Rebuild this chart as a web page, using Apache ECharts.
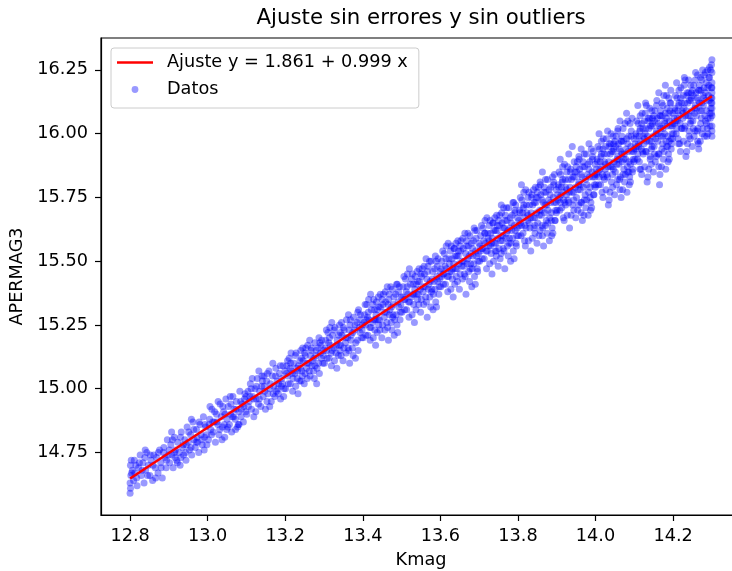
<!DOCTYPE html>
<html>
<head>
<meta charset="utf-8">
<script src="https://cdn.jsdelivr.net/npm/echarts@6/dist/echarts.min.js"></script>
<style>
  html, body { margin: 0; padding: 0; background: #fff; }
  #chart { width: 732px; height: 571px; }
</style>
</head>
<body>
<div id="chart"></div>
<script>
// Fitted line coefficients: y = intercept + slope * x
const intercept = 1.861;
const slope = 0.999;
const fitRange = [12.8, 14.3];

// Tick positions
const ticksX = [12.8, 13.0, 13.2, 13.4, 13.6, 13.8, 14.0, 14.2];
const ticksY = [14.75, 15.00, 15.25, 15.50, 15.75, 16.00, 16.25];

// Measured points, first batch: [Kmag, APERMAG3]
const datosA = [
[12.800,14.59],[12.801,14.61],[12.800,14.63],[12.802,14.66],[12.801,14.70],[12.803,14.72],[12.806,14.68],[12.809,14.64],
[12.812,14.67],[12.815,14.70],[12.818,14.62],[12.822,14.69],[12.826,14.74],[12.829,14.66],[12.833,14.71],[12.836,14.63],
[12.840,14.68],[12.843,14.75],[12.847,14.70],[12.851,14.66],[12.854,14.72],[12.858,14.64],[12.861,14.74],[12.865,14.69],
[12.868,14.73],[12.872,14.67],[12.876,14.76],[12.879,14.71],[12.883,14.65],[12.886,14.75],[12.890,14.73],[12.893,14.69],
[12.896,14.80],[12.899,14.74],
[12.902,14.71],[12.905,14.78],[12.908,14.74],[12.911,14.69],[12.914,14.81],[12.917,14.76],[12.920,14.72],[12.923,14.79],
[12.926,14.75],[12.929,14.70],[12.932,14.83],[12.935,14.77],[12.938,14.74],[12.941,14.80],[12.944,14.72],[12.947,14.85],
[12.950,14.79],[12.953,14.76],[12.956,14.82],[12.959,14.74],[12.962,14.87],[12.965,14.80],[12.968,14.77],[12.971,14.84],
[12.974,14.79],[12.977,14.75],[12.980,14.86],[12.983,14.82],[12.986,14.78],[12.989,14.89],[12.992,14.81],[12.995,14.85],
[12.998,14.78],[12.907,14.83],[12.931,14.73],[12.958,14.88],[12.973,14.81],[12.991,14.76],[12.945,14.78],[12.916,14.73],
[13.002,14.80],[13.005,14.88],[13.008,14.84],[13.011,14.92],[13.014,14.83],[13.017,14.87],[13.020,14.79],[13.023,14.90],
[13.026,14.86],[13.029,14.82],[13.032,14.94],[13.035,14.89],[13.038,14.85],[13.041,14.91],[13.044,14.81],[13.047,14.96],
[13.050,14.88],[13.053,14.93],[13.056,14.86],[13.059,14.90],[13.062,14.83],[13.065,14.97],[13.068,14.92],[13.071,14.88],
[13.074,14.95],[13.077,14.85],[13.080,14.91],[13.083,14.99],[13.086,14.89],[13.089,14.94],[13.092,14.87],[13.095,14.96],
[13.098,14.91],[13.013,14.87],[13.027,14.95],[13.043,14.86],[13.058,14.97],[13.072,14.84],[13.087,14.92],[13.096,14.98],
[13.006,14.93],[13.037,14.80],[13.064,14.89],[13.081,14.86],[13.049,14.84],
[13.101,14.90],[13.104,14.99],[13.107,14.95],[13.110,15.02],[13.113,14.92],[13.116,14.97],[13.119,14.89],[13.122,15.00],
[13.125,14.96],[13.128,15.04],[13.131,14.94],[13.134,14.99],[13.137,14.93],[13.140,15.05],[13.143,14.97],[13.146,15.01],
[13.149,14.92],[13.152,15.03],[13.155,14.98],[13.158,15.07],[13.161,15.00],[13.164,14.95],[13.167,15.05],[13.170,15.01],
[13.173,14.97],[13.176,15.08],[13.179,15.03],[13.182,14.98],[13.185,15.06],[13.188,14.96],[13.191,15.04],[13.194,15.09],
[13.197,15.00],[13.109,14.97],[13.124,14.91],[13.139,15.01],[13.153,14.95],[13.168,15.10],[13.183,15.02],[13.196,14.97],
[13.115,15.04],[13.132,15.07],[13.160,14.93],[13.177,14.99],[13.145,15.05],[13.190,15.01],
[13.201,15.00],[13.204,15.09],[13.207,15.05],[13.210,15.12],[13.213,15.02],[13.216,15.07],[13.219,14.99],[13.222,15.10],
[13.225,15.06],[13.228,15.14],[13.231,15.04],[13.234,15.09],[13.237,15.03],[13.240,15.15],[13.243,15.07],[13.246,15.11],
[13.249,15.02],[13.252,15.13],[13.255,15.08],[13.258,15.17],[13.261,15.10],[13.264,15.05],[13.267,15.15],[13.270,15.11],
[13.273,15.07],[13.276,15.18],[13.279,15.13],[13.282,15.08],[13.285,15.16],[13.288,15.06],[13.291,15.14],[13.294,15.19],
[13.297,15.10],[13.206,15.11],[13.218,15.06],[13.233,14.98],[13.245,15.16],[13.257,15.04],[13.269,15.09],[13.281,15.02],
[13.293,15.12],[13.212,15.08],[13.227,15.01],[13.242,15.12],[13.263,15.19],[13.275,15.04],[13.287,15.20],[13.299,15.15],
[13.239,15.08],[13.251,15.06],
[13.301,15.10],[13.304,15.19],[13.307,15.15],[13.310,15.22],[13.313,15.12],[13.316,15.17],[13.319,15.09],[13.322,15.21],
[13.325,15.16],[13.328,15.24],[13.331,15.14],[13.334,15.19],[13.337,15.13],[13.340,15.25],[13.343,15.17],[13.346,15.21],
[13.349,15.11],[13.352,15.23],[13.355,15.18],[13.358,15.27],[13.361,15.20],[13.364,15.15],[13.367,15.25],[13.370,15.21],
[13.373,15.16],[13.376,15.28],[13.379,15.23],[13.382,15.18],[13.385,15.26],[13.388,15.15],[13.391,15.24],[13.394,15.29],
[13.397,15.20],[13.306,15.23],[13.318,15.14],[13.333,15.08],[13.345,15.26],[13.357,15.14],[13.369,15.19],[13.381,15.12],
[13.393,15.22],[13.312,15.18],[13.327,15.11],[13.342,15.22],[13.363,15.29],[13.375,15.13],[13.387,15.30],[13.399,15.25],
[13.339,15.17],[13.351,15.16],[13.320,15.26],[13.366,15.10],
[13.401,15.20],[13.404,15.29],[13.407,15.25],[13.410,15.33],[13.413,15.21],[13.416,15.27],[13.419,15.19],[13.422,15.31],
[13.425,15.26],[13.428,15.35],[13.431,15.23],[13.434,15.29],[13.437,15.22],[13.440,15.36],[13.443,15.27],[13.446,15.32],
[13.449,15.20],[13.452,15.33],[13.455,15.28],[13.458,15.38],[13.461,15.30],[13.464,15.24],[13.467,15.35],[13.470,15.31],
[13.473,15.26],[13.476,15.39],[13.479,15.33],[13.482,15.27],[13.485,15.37],[13.488,15.25],[13.491,15.34],[13.494,15.40],
[13.497,15.30],[13.406,15.33],[13.418,15.24],[13.433,15.17],[13.445,15.37],[13.457,15.23],[13.469,15.29],[13.481,15.21],
[13.493,15.32],[13.412,15.28],[13.427,15.20],[13.442,15.32],[13.463,15.40],[13.475,15.23],[13.487,15.41],[13.499,15.36],
[13.439,15.27],[13.451,15.25],[13.420,15.37],[13.466,15.19],[13.430,15.31],[13.478,15.29],[13.490,15.22],[13.459,15.34],
[13.501,15.30],[13.504,15.40],[13.507,15.35],[13.510,15.43],[13.513,15.31],[13.516,15.37],[13.519,15.28],[13.522,15.41],
[13.525,15.36],[13.528,15.45],[13.531,15.33],[13.534,15.39],[13.537,15.31],[13.540,15.46],[13.543,15.37],[13.546,15.42],
[13.549,15.30],[13.552,15.44],[13.555,15.38],[13.558,15.48],[13.561,15.40],[13.564,15.34],[13.567,15.46],[13.570,15.41],
[13.573,15.36],[13.576,15.50],[13.579,15.43],[13.582,15.37],[13.585,15.47],[13.588,15.34],[13.591,15.44],[13.594,15.51],
[13.597,15.40],[13.506,15.44],[13.518,15.34],[13.533,15.26],[13.545,15.47],[13.557,15.33],[13.569,15.39],[13.581,15.31],
[13.593,15.42],[13.512,15.38],[13.527,15.29],[13.542,15.42],[13.563,15.51],[13.575,15.32],[13.587,15.52],[13.599,15.46],
[13.539,15.37],[13.551,15.35],[13.520,15.47],[13.566,15.28],[13.530,15.41],[13.578,15.39],[13.590,15.32],[13.559,15.45],
[13.548,15.39],[13.584,15.42],
[13.601,15.40],[13.604,15.50],[13.607,15.45],[13.610,15.53],[13.613,15.41],[13.616,15.47],[13.619,15.38],[13.622,15.51],
[13.625,15.46],[13.628,15.56],[13.631,15.43],[13.634,15.49],[13.637,15.41],[13.640,15.57],[13.643,15.47],[13.646,15.52],
[13.649,15.39],[13.652,15.54],[13.655,15.48],[13.658,15.59],[13.661,15.50],[13.664,15.44],[13.667,15.56],[13.670,15.51],
[13.673,15.46],[13.676,15.60],[13.679,15.53],[13.682,15.47],[13.685,15.58],[13.688,15.44],[13.691,15.54],[13.694,15.62],
[13.697,15.50],[13.606,15.54],[13.618,15.44],[13.633,15.36],[13.645,15.58],[13.657,15.43],[13.669,15.49],[13.681,15.40],
[13.693,15.52],[13.612,15.48],[13.627,15.39],[13.642,15.52],[13.663,15.61],[13.675,15.42],[13.687,15.63],[13.699,15.57],
[13.639,15.47],[13.651,15.45],[13.620,15.57],[13.666,15.37],[13.630,15.51],[13.678,15.49],[13.690,15.41],[13.659,15.55],
[13.648,15.49],[13.684,15.52],[13.603,15.44],[13.636,15.55],[13.672,15.56],[13.696,15.46],
[13.701,15.50],[13.704,15.60],[13.707,15.55],[13.710,15.63],[13.713,15.51],[13.716,15.57],[13.719,15.47],[13.722,15.61],
[13.725,15.56],[13.728,15.66],[13.731,15.53],[13.734,15.59],[13.737,15.50],[13.740,15.67],[13.743,15.57],[13.746,15.62],
[13.749,15.48],[13.752,15.64],[13.755,15.58],[13.758,15.69],[13.761,15.60],[13.764,15.54],[13.767,15.66],[13.770,15.61],
[13.773,15.56],[13.776,15.71],[13.779,15.63],[13.782,15.57],[13.785,15.68],[13.788,15.54],[13.791,15.64],[13.794,15.72],
[13.797,15.60],[13.706,15.64],[13.718,15.54],[13.733,15.45],[13.745,15.68],[13.757,15.53],[13.769,15.59],[13.781,15.50],
[13.793,15.62],[13.712,15.58],[13.727,15.49],[13.742,15.62],[13.763,15.71],[13.775,15.52],[13.787,15.73],[13.799,15.67],
[13.739,15.57],[13.751,15.55],[13.720,15.67],[13.766,15.47],[13.730,15.61],[13.778,15.59],[13.790,15.51],[13.759,15.65],
[13.748,15.59],[13.784,15.62],[13.703,15.54],[13.736,15.65],[13.772,15.66],[13.796,15.56],[13.715,15.61],[13.754,15.51],
[13.744,15.54],[13.792,15.69],[13.726,15.58],[13.762,15.63],
[13.801,15.60],[13.804,15.70],[13.807,15.65],[13.810,15.74],[13.813,15.61],[13.816,15.67],[13.819,15.56],[13.822,15.72],
[13.825,15.66],[13.828,15.77],[13.831,15.63],[13.834,15.69],[13.837,15.59],[13.840,15.78],[13.843,15.67],[13.846,15.73],
[13.849,15.57],[13.852,15.75],[13.855,15.68],[13.858,15.80],[13.861,15.70],[13.864,15.63],[13.867,15.77],[13.870,15.72],
[13.873,15.66],[13.876,15.82],[13.879,15.74],[13.882,15.67],[13.885,15.79],[13.888,15.63],[13.891,15.75],[13.894,15.84],
[13.897,15.70],[13.806,15.75],[13.818,15.64],[13.833,15.54],[13.845,15.79],[13.857,15.62],[13.869,15.69],[13.881,15.58],
[13.893,15.73],[13.812,15.69],[13.827,15.58],[13.842,15.73],[13.863,15.85],[13.875,15.61],[13.887,15.60],[13.899,15.78],
[13.839,15.67],[13.851,15.65],[13.820,15.78],[13.866,15.56],[13.830,15.72],[13.878,15.70],[13.890,15.61],[13.859,15.76],
[13.848,15.69],[13.884,15.73],[13.803,15.64],[13.836,15.76],[13.872,15.77],[13.896,15.66],[13.815,15.72],[13.854,15.60],
[13.844,15.64],[13.892,15.81],[13.826,15.68],[13.862,15.74],[13.809,15.80],[13.871,15.64],[13.886,15.69],
[13.901,15.70],[13.904,15.80],[13.907,15.75],[13.910,15.84],[13.913,15.71],[13.916,15.77],[13.919,15.66],[13.922,15.82],
[13.925,15.76],[13.928,15.87],[13.931,15.73],[13.934,15.79],[13.937,15.68],[13.940,15.95],[13.943,15.77],[13.946,15.83],
[13.949,15.67],[13.952,15.85],[13.955,15.78],[13.958,15.90],[13.961,15.80],[13.964,15.73],[13.967,15.87],[13.970,15.68],
[13.973,15.76],[13.976,15.92],[13.979,15.84],[13.982,15.77],[13.985,15.89],[13.988,15.73],[13.991,15.85],[13.994,15.93],
[13.997,15.80],[13.906,15.85],[13.918,15.74],[13.933,15.63],[13.945,15.89],[13.957,15.72],[13.969,15.79],[13.981,15.68],
[13.993,15.83],[13.912,15.79],[13.927,15.68],[13.942,15.83],[13.963,15.94],[13.975,15.71],[13.987,15.70],[13.999,15.88],
[13.939,15.77],[13.951,15.75],[13.920,15.88],[13.966,15.66],[13.930,15.82],[13.978,15.80],[13.990,15.71],[13.959,15.86],
[13.948,15.79],[13.984,15.83],[13.903,15.74],[13.936,15.86],[13.972,15.87],[13.996,15.76],[13.915,15.82],[13.954,15.70],
[13.944,15.74],[13.992,15.91],[13.926,15.78],[13.962,15.84],[13.909,15.90],[13.971,15.74],[13.986,15.79],[13.923,15.72],
[13.957,15.81],[13.998,15.84],[13.911,15.76],
[14.001,15.80],[14.004,15.90],[14.007,15.85],[14.010,15.94],[14.013,15.80],[14.016,15.87],[14.019,15.75],[14.022,15.92],
[14.025,15.86],[14.028,15.98],[14.031,15.83],[14.034,15.89],[14.037,15.77],[14.040,16.00],[14.043,15.87],[14.046,15.93],
[14.049,15.76],[14.052,15.95],[14.055,15.88],[14.058,16.02],[14.061,15.90],[14.064,15.83],[14.067,15.97],[14.070,15.78],
[14.073,15.86],[14.076,16.04],[14.079,15.94],[14.082,15.87],[14.085,15.99],[14.088,15.83],[14.091,15.95],[14.094,16.06],
[14.097,15.90],[14.006,15.95],[14.018,15.84],[14.033,15.72],[14.045,15.99],[14.057,15.82],[14.069,15.89],[14.081,15.77],
[14.093,15.93],[14.012,15.89],[14.027,15.78],[14.042,15.93],[14.063,16.05],[14.075,15.81],[14.087,15.80],[14.099,15.98],
[14.039,15.87],[14.051,15.85],[14.020,15.98],[14.066,15.75],[14.030,15.92],[14.078,15.90],[14.090,15.81],[14.059,15.96],
[14.048,15.89],[14.084,15.93],[14.003,15.84],[14.036,15.96],[14.072,15.97],[14.096,15.86],[14.015,15.92],[14.054,15.80],
[14.044,15.84],[14.092,16.01],[14.026,15.88],[14.062,15.94],[14.009,16.00],[14.071,15.84],[14.086,15.89],[14.023,15.82],
[14.057,15.91],[14.098,15.94],[14.011,15.86],[14.080,16.08],[14.035,15.74],[14.068,15.92],[14.047,15.96],[14.083,15.85],
[14.101,15.90],[14.104,16.00],[14.107,15.95],[14.110,16.04],[14.113,15.89],[14.116,15.97],[14.119,15.84],[14.122,16.02],
[14.125,15.96],[14.128,16.08],[14.131,15.93],[14.134,15.99],[14.137,15.86],[14.140,16.10],[14.143,15.97],[14.146,16.03],
[14.149,15.85],[14.152,16.05],[14.155,15.98],[14.158,16.13],[14.161,16.00],[14.164,15.92],[14.167,16.07],[14.170,15.87],
[14.173,15.96],[14.176,16.15],[14.179,16.04],[14.182,15.97],[14.185,16.10],[14.188,15.92],[14.191,16.05],[14.194,16.17],
[14.197,16.00],[14.106,16.05],[14.118,15.94],[14.133,15.81],[14.145,16.09],[14.157,15.91],[14.169,15.99],[14.181,15.86],
[14.193,16.03],[14.112,15.99],[14.127,15.87],[14.142,16.03],[14.163,16.16],[14.175,15.90],[14.187,15.89],[14.199,16.08],
[14.139,15.97],[14.151,15.95],[14.120,16.08],[14.166,15.84],[14.130,16.02],[14.178,16.00],[14.190,15.90],[14.159,16.06],
[14.148,15.99],[14.184,16.03],[14.103,15.94],[14.136,16.06],[14.172,16.07],[14.196,15.96],[14.115,16.02],[14.154,15.89],
[14.144,15.94],[14.192,16.12],[14.126,15.98],[14.162,16.04],[14.109,16.11],[14.171,15.94],[14.186,15.99],[14.123,15.92],
[14.157,16.01],[14.198,16.04],[14.111,15.96],[14.180,16.19],[14.135,15.83],[14.168,16.02],[14.147,16.06],[14.183,15.95],
[14.165,15.80],[14.129,16.12],[14.189,16.08],[14.141,15.91],[14.174,16.11],[14.114,15.86],[14.195,15.98],
[14.201,16.00],[14.204,16.10],[14.207,16.05],[14.210,16.14],[14.213,15.98],[14.216,16.07],[14.219,15.93],[14.222,16.12],
[14.225,16.06],[14.228,16.19],[14.231,16.03],[14.234,16.09],[14.237,15.96],[14.240,16.21],[14.243,16.07],[14.246,16.13],
[14.249,15.95],[14.252,16.15],[14.255,16.08],[14.258,16.24],[14.261,16.10],[14.264,16.02],[14.267,16.17],[14.270,15.97],
[14.273,16.06],[14.276,16.25],[14.279,16.14],[14.282,16.07],[14.285,16.20],[14.288,16.02],[14.291,16.15],[14.294,16.26],
[14.297,16.10],[14.206,16.15],[14.218,16.04],[14.233,15.91],[14.245,16.19],[14.257,16.01],[14.269,16.09],[14.281,15.99],
[14.293,16.13],[14.212,16.09],[14.227,15.97],[14.242,16.13],[14.263,16.23],[14.275,16.00],[14.287,15.99],[14.299,16.18],
[14.239,16.07],[14.251,16.05],[14.220,16.18],[14.266,15.94],[14.230,16.12],[14.278,16.11],[14.290,16.00],[14.259,16.16],
[14.248,16.09],[14.284,16.13],[14.203,16.04],[14.236,16.16],[14.272,16.17],[14.296,16.06],[14.215,16.12],[14.254,15.99],
[14.244,16.04],[14.292,16.22],[14.226,16.08],[14.262,16.14],[14.209,16.20],[14.271,16.04],[14.286,16.09],[14.223,16.02],
[14.257,16.11],[14.298,16.14],[14.211,16.06],[14.280,16.23],[14.235,15.93],[14.268,16.12],[14.247,16.16],[14.283,16.05],
[14.265,15.96],[14.229,16.22],[14.289,16.18],[14.241,16.01],[14.274,16.21],[14.214,15.96],[14.295,16.08],
[14.300,15.99],[14.300,16.03],[14.300,16.07],[14.300,16.12],[14.300,16.16],[14.300,16.20],[14.300,16.24],[14.300,16.29],[14.299,16.27]
];

// Measured points, second batch: [Kmag, APERMAG3]
const datosB = [
[12.804,14.67],[12.811,14.72],[12.817,14.65],[12.824,14.71],[12.831,14.68],[12.838,14.73],[12.845,14.66],[12.852,14.74],
[12.859,14.70],[12.866,14.65],[12.873,14.75],[12.880,14.69],[12.887,14.77],[12.894,14.72],[12.901,14.76],[12.909,14.80],
[12.915,14.75],[12.922,14.71],[12.930,14.81],[12.937,14.78],[12.943,14.75],[12.951,14.83],[12.957,14.77],[12.964,14.84],
[12.970,14.79],[12.978,14.87],[12.985,14.80],[12.993,14.86],[12.997,14.82],[12.839,14.76],
[13.004,14.86],[13.010,14.82],[13.018,14.91],[13.024,14.87],[13.031,14.84],[13.039,14.93],[13.045,14.90],[13.052,14.85],
[13.060,14.94],[13.067,14.89],[13.073,14.92],[13.079,14.86],[13.085,14.95],[13.093,14.93],[13.099,14.97],[13.105,14.93],
[13.112,15.00],[13.118,14.96],[13.126,15.01],[13.133,14.96],[13.141,15.03],[13.147,14.99],[13.154,15.06],[13.162,15.02],
[13.169,14.98],[13.175,15.05],[13.181,15.00],[13.187,15.09],[13.193,15.02],[13.199,15.07],
[13.203,15.06],[13.208,15.02],[13.214,15.10],[13.220,15.04],[13.226,15.13],[13.232,15.07],[13.238,15.11],[13.244,15.05],
[13.250,15.14],[13.256,15.10],[13.262,15.07],[13.268,15.16],[13.274,15.12],[13.280,15.15],[13.286,15.10],[13.292,15.17],
[13.298,15.13],[13.215,15.14],[13.241,15.03],[13.265,15.13],[13.289,15.18],[13.229,15.08],[13.253,15.16],[13.277,15.09],
[13.303,15.16],[13.308,15.12],[13.314,15.20],[13.321,15.15],[13.326,15.23],[13.332,15.17],[13.338,15.21],[13.344,15.13],
[13.350,15.24],[13.356,15.20],[13.362,15.16],[13.368,15.27],[13.374,15.22],[13.380,15.25],[13.386,15.19],[13.392,15.27],
[13.398,15.23],[13.315,15.24],[13.341,15.15],[13.365,15.23],[13.389,15.31],
[13.403,15.26],[13.408,15.21],[13.414,15.30],[13.421,15.24],[13.426,15.33],[13.432,15.27],[13.438,15.31],[13.444,15.23],
[13.450,15.35],[13.456,15.30],[13.462,15.26],[13.468,15.37],[13.474,15.32],[13.480,15.36],[13.486,15.29],[13.492,15.38],
[13.498,15.33],[13.415,15.35],[13.441,15.25],[13.465,15.33],[13.489,15.41],[13.429,15.27],[13.453,15.37],[13.477,15.28],
[13.409,15.27],[13.435,15.34],[13.472,15.40],[13.496,15.27],
[13.503,15.36],[13.508,15.31],[13.514,15.40],[13.521,15.34],[13.526,15.43],[13.532,15.37],[13.538,15.41],[13.544,15.33],
[13.550,15.45],[13.556,15.40],[13.562,15.36],[13.568,15.48],[13.574,15.42],[13.580,15.46],[13.586,15.39],[13.592,15.48],
[13.598,15.43],[13.515,15.45],[13.541,15.35],[13.565,15.43],[13.589,15.50],[13.529,15.37],[13.553,15.47],[13.577,15.38],
[13.509,15.35],[13.535,15.44],[13.572,15.50],[13.596,15.37],
[13.602,15.47],[13.608,15.41],[13.614,15.51],[13.621,15.44],[13.626,15.54],[13.632,15.47],[13.638,15.52],[13.644,15.42],
[13.650,15.56],[13.656,15.50],[13.662,15.45],[13.668,15.58],[13.674,15.52],[13.680,15.57],[13.686,15.49],[13.692,15.59],
[13.698,15.53],[13.615,15.56],[13.641,15.44],[13.665,15.53],[13.689,15.62],[13.629,15.46],[13.653,15.58],[13.677,15.47],
[13.609,15.45],[13.635,15.55],[13.671,15.61],[13.695,15.47],[13.623,15.49],[13.647,15.54],[13.683,15.55],[13.660,15.48],
[13.702,15.56],[13.708,15.51],[13.714,15.61],[13.721,15.54],[13.726,15.64],[13.732,15.57],[13.738,15.62],[13.744,15.52],
[13.750,15.66],[13.756,15.60],[13.762,15.55],[13.768,15.68],[13.774,15.62],[13.780,15.67],[13.786,15.59],[13.792,15.70],
[13.798,15.63],[13.715,15.66],[13.741,15.54],[13.765,15.63],[13.789,15.73],[13.729,15.56],[13.753,15.68],[13.777,15.57],
[13.709,15.55],[13.735,15.65],[13.771,15.71],[13.795,15.57],[13.723,15.59],[13.747,15.64],[13.783,15.65],[13.760,15.58],
[13.757,15.72],
[13.802,15.66],[13.808,15.60],[13.814,15.71],[13.821,15.63],[13.826,15.75],[13.832,15.67],[13.838,15.72],[13.844,15.61],
[13.850,15.77],[13.856,15.70],[13.862,15.64],[13.868,15.79],[13.874,15.72],[13.880,15.78],[13.886,15.66],[13.892,15.80],
[13.898,15.73],[13.815,15.77],[13.841,15.63],[13.865,15.73],[13.889,15.83],[13.829,15.65],[13.853,15.79],[13.877,15.65],
[13.809,15.64],[13.835,15.75],[13.871,15.82],[13.895,15.66],[13.823,15.69],[13.847,15.75],[13.883,15.76],[13.860,15.68],
[13.857,15.81],[13.817,15.58],[13.899,15.69],[13.863,15.60],[13.805,15.69],
[13.902,15.76],[13.908,15.70],[13.914,15.81],[13.921,15.73],[13.926,15.85],[13.932,15.77],[13.938,15.82],[13.944,15.70],
[13.950,15.87],[13.956,15.80],[13.962,15.73],[13.968,15.89],[13.974,15.82],[13.980,15.88],[13.986,15.75],[13.992,15.90],
[13.998,15.83],[13.915,15.87],[13.941,15.72],[13.965,15.83],[13.989,15.94],[13.929,15.74],[13.953,15.89],[13.977,15.74],
[13.909,15.73],[13.935,15.85],[13.971,15.92],[13.995,15.76],[13.923,15.79],[13.947,15.85],[13.983,15.86],[13.960,15.78],
[13.957,15.91],[13.917,15.67],[13.999,15.79],[13.963,15.69],[13.905,15.79],[13.983,15.96],[13.931,15.92],
[14.002,15.86],[14.008,15.80],[14.014,15.91],[14.021,15.83],[14.026,15.95],[14.032,15.87],[14.038,15.92],[14.044,15.79],
[14.050,15.97],[14.056,15.90],[14.062,15.82],[14.068,15.99],[14.074,15.92],[14.080,15.98],[14.086,15.85],[14.092,15.99],
[14.098,15.93],[14.015,15.97],[14.041,15.81],[14.065,15.93],[14.089,16.04],[14.029,15.84],[14.053,15.99],[14.077,15.84],
[14.009,15.83],[14.035,15.95],[14.071,16.02],[14.095,15.85],[14.023,15.89],[14.047,15.94],[14.083,15.96],[14.060,15.88],
[14.057,16.01],[14.017,15.77],[14.099,15.89],[14.063,15.78],[14.005,15.89],[14.083,16.05],[14.031,16.01],[14.046,15.86],
[14.073,15.90],[14.019,15.94],[14.090,15.88],[14.040,15.96],[14.066,15.97],
[14.102,15.96],[14.108,15.90],[14.114,16.01],[14.121,15.93],[14.126,16.05],[14.132,15.97],[14.138,16.02],[14.144,15.88],
[14.150,16.07],[14.156,16.00],[14.162,15.92],[14.168,16.09],[14.174,16.02],[14.180,16.08],[14.186,15.95],[14.192,16.09],
[14.198,16.03],[14.115,16.07],[14.141,15.90],[14.165,16.03],[14.189,16.14],[14.129,15.93],[14.153,16.09],[14.177,15.93],
[14.109,15.92],[14.135,16.05],[14.171,16.12],[14.195,15.94],[14.123,15.99],[14.147,16.04],[14.183,16.06],[14.160,15.97],
[14.157,16.11],[14.117,15.86],[14.199,15.98],[14.163,15.87],[14.105,15.99],[14.183,16.15],[14.131,16.11],[14.146,15.95],
[14.173,15.99],[14.119,16.04],[14.190,15.97],[14.140,16.06],[14.166,16.07],[14.128,16.00],[14.152,15.92],[14.178,16.05],
[14.194,16.12],[14.111,15.95],
[14.202,16.06],[14.208,16.00],[14.214,16.11],[14.221,16.02],[14.226,16.15],[14.232,16.07],[14.238,16.12],[14.244,15.98],
[14.250,16.17],[14.256,16.10],[14.262,16.01],[14.268,16.19],[14.274,16.12],[14.280,16.18],[14.286,16.04],[14.292,16.19],
[14.298,16.12],[14.215,16.17],[14.241,15.99],[14.265,16.13],[14.289,16.25],[14.229,16.02],[14.253,16.19],[14.277,16.02],
[14.209,16.02],[14.235,16.15],[14.271,16.22],[14.295,16.03],[14.223,16.09],[14.247,16.14],[14.283,16.16],[14.260,16.07],
[14.257,16.21],[14.217,15.96],[14.299,16.08],[14.263,15.97],[14.205,16.09],[14.283,16.24],[14.231,16.21],[14.246,16.05],
[14.273,16.09],[14.219,16.14],[14.290,16.06],[14.240,16.16],[14.266,16.17],[14.228,16.10],[14.252,16.02],[14.278,16.15],
[14.294,16.22],[14.211,16.05],[14.300,16.10],[14.300,16.01],[14.300,16.18],[14.297,16.25],[14.300,16.14]
];

const datos = datosA.concat(datosB);

const FONT = 'DejaVu Sans';
const FS = 17.7;        // tick / label / legend text size
const FS_TITLE = 21.3;  // title size
const tituloTexto = 'Ajuste sin errores y sin outliers';
const ajusteNombre = 'Ajuste y = ' + intercept.toFixed(3) + ' + ' + slope.toFixed(3) + ' x';

// Fit line endpoints from the stated coefficients
const lineaAjuste = fitRange.map(x => [x, intercept + slope * x]);

// Axis extents with a 5% margin around the data
const xs = datos.map(d => d[0]);
const ys = datos.map(d => d[1]);
const xMin0 = Math.min(...xs), xMax0 = Math.max(...xs);
const yMin0 = Math.min(...ys), yMax0 = Math.max(...ys);
const xPad = 0.05 * (xMax0 - xMin0), yPad = 0.05 * (yMax0 - yMin0);

// Plot box (the right edge runs past the canvas)
const plotLeft = 101, plotTop = 38, plotWidth = 640, plotHeight = 477;

// Center the title over the plot box
const ctx = document.createElement('canvas').getContext('2d');
ctx.font = FS_TITLE + 'px "' + FONT + '"';
const titleW = ctx.measureText(tituloTexto).width;

const chart = echarts.init(document.getElementById('chart'), null, { renderer: 'canvas' });

const axisCommon = {
  type: 'value',
  nameLocation: 'middle',
  nameTextStyle: { fontFamily: FONT, fontSize: FS, color: '#000' },
  axisLine: { show: true, onZero: false, lineStyle: { color: '#000', width: 1.2 } },
  splitLine: { show: false }
};

chart.setOption({
  animation: false,
  backgroundColor: '#ffffff',
  textStyle: { fontFamily: FONT },
  title: {
    text: tituloTexto,
    left: plotLeft + plotWidth / 2 - titleW / 2 - 5,
    top: 3.2,
    textStyle: { fontFamily: FONT, fontSize: FS_TITLE, fontWeight: 'normal', color: '#000', lineHeight: 21 }
  },
  grid: {
    left: plotLeft, top: plotTop, width: plotWidth, height: plotHeight,
    containLabel: false,
    outerBoundsMode: 'none',
    show: true, borderColor: '#000', borderWidth: 1.2, backgroundColor: 'transparent'
  },
  legend: {
    orient: 'vertical',
    left: 111, top: 48,
    padding: [5.5, 11, 9.5, 6],
    itemWidth: 45, itemHeight: 14, itemGap: 9,
    backgroundColor: 'rgba(255,255,255,0.8)',
    borderColor: '#cccccc', borderWidth: 1, borderRadius: 3,
    textStyle: { fontFamily: FONT, fontSize: FS, color: '#000' },
    data: [
      { name: ajusteNombre, icon: 'path://M0,0 M45,14 M0,5.7 L36,5.7 L36,8.3 L0,8.3 Z' },
      { name: 'Datos', icon: 'path://M0,0 M45,14 M14.6,7 A3.4,3.4 0 1 0 21.4,7 A3.4,3.4 0 1 0 14.6,7 Z' }
    ]
  },
  xAxis: Object.assign({}, axisCommon, {
    min: xMin0 - xPad, max: xMax0 + xPad,
    name: 'Kmag', nameGap: 36,
    axisTick: { show: true, customValues: ticksX, length: 6, lineStyle: { color: '#000', width: 1.2 } },
    axisLabel: { customValues: ticksX, margin: 12, fontFamily: FONT, fontSize: FS, color: '#000',
      formatter: v => v.toFixed(1) }
  }),
  yAxis: Object.assign({}, axisCommon, {
    min: yMin0 - yPad, max: yMax0 + yPad,
    name: 'APERMAG3', nameGap: 68, nameRotate: 90,
    axisTick: { show: true, customValues: ticksY, length: 6, lineStyle: { color: '#000', width: 1.2 } },
    axisLabel: { customValues: ticksY, margin: 13, fontFamily: FONT, fontSize: FS, color: '#000',
      formatter: v => v.toFixed(2) }
  }),
  series: [
    {
      name: ajusteNombre,
      type: 'line',
      data: lineaAjuste,
      symbol: 'none',
      color: '#ff0000',
      lineStyle: { color: '#ff0000', width: 2.6 },
      z: 5
    },
    {
      name: 'Datos',
      type: 'scatter',
      data: datos,
      symbol: 'circle',
      symbolSize: 7,
      color: 'rgba(0,0,255,0.5)',
      itemStyle: { color: 'rgba(0,0,255,0.5)', borderWidth: 0 },
      z: 2
    }
  ]
});
</script>
</body>
</html>
